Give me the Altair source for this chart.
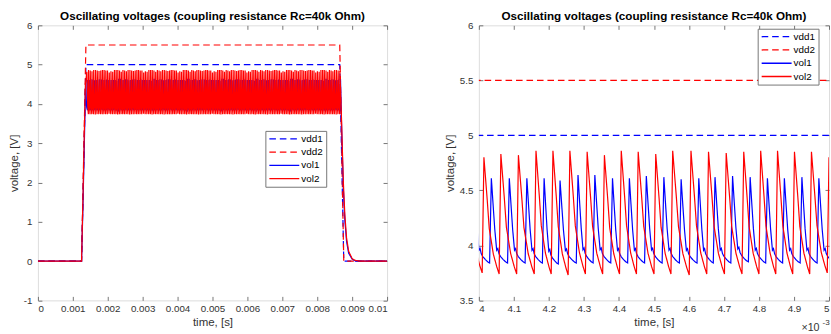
import altair as alt
import pandas as pd

FONT = "Liberation Sans"
TITLE = "Oscillating voltages (coupling resistance Rc=40k Ohm)"
SERIES = ["vdd1", "vdd2", "vol1", "vol2"]
COLORS = ["#0000ff", "#ff0000", "#0000ff", "#ff0000"]
DASHES = [[6.6, 3.9], [6.6, 3.9], [1, 0], [1, 0]]

# supply voltages (time in ms, volts)
VDD_T = [0.0, 1.25, 1.375, 8.645, 8.76, 10.0]
VDD1_V = [0.0, 0.0, 5.0, 5.0, 0.0, 0.0]
VDD2_V = [0.0, 0.0, 5.5, 5.5, 0.0, 0.0]

# one window (4..5 ms) of the oscillation
VOL2_PEAK_T = [4.0145, 4.0629, 4.1130, 4.1632, 4.2116, 4.2600, 4.3093, 4.3586, 4.4067, 4.4551,
               4.5052, 4.5536, 4.6058, 4.6559, 4.7064, 4.7565, 4.8049, 4.8530, 4.9014, 4.9499]
VOL2_PEAK_V = [4.80, 4.83, 4.82, 4.86, 4.86, 4.86, 4.85, 4.82, 4.86, 4.85,
               4.83, 4.86, 4.86, 4.85, 4.84, 4.85, 4.86, 4.86, 4.85, 4.85]
VOL2_LOW_V = [3.75, 3.74, 3.74, 3.74, 3.74, 3.73, 3.74, 3.74, 3.74, 3.74,
              3.74, 3.74, 3.73, 3.74, 3.74, 3.74, 3.74, 3.74, 3.74, 3.74]
VOL1_PEAK_T = [4.0357, 4.0870, 4.1371, 4.1864, 4.2319, 4.2832, 4.3313, 4.3817, 4.4299, 4.4783,
               4.5284, 4.5777, 4.6281, 4.6745, 4.7246, 4.7748, 4.8241, 4.8725, 4.9226, 4.9710]
VOL1_PEAK_V = [4.61, 4.61, 4.61, 4.61, 4.59, 4.64, 4.64, 4.61, 4.61, 4.63,
               4.62, 4.60, 4.61, 4.62, 4.63, 4.62, 4.61, 4.61, 4.62, 4.61]
VOL1_LOW_V = [3.84, 3.84, 3.84, 3.84, 3.83, 3.84, 3.84, 3.84, 3.84, 3.84,
              3.84, 3.84, 3.84, 3.84, 3.84, 3.85, 3.84, 3.84, 3.84, 3.84]
RISE_MS = 0.005          # trough -> peak rise time
WINDOW_MS = 0.9855       # span of the 20 read cycles (repeated across the band)
BAND_MS = [1.37, 8.67]   # oscillation interval

# shape of the decay from a peak to the next trough (fraction of time, fraction of swing)
VOL2_SHAPE_T = [0.0, 0.22, 0.35, 0.62, 0.85, 1.0]
VOL2_SHAPE_V = [1.0, 0.63, 0.39, 0.17, 0.06, 0.0]
VOL1_SHAPE_T = [0.0, 0.10, 0.21, 0.33, 0.40, 0.47, 0.57, 0.73, 0.90, 1.0]
VOL1_SHAPE_V = [1.0, 0.71, 0.40, 0.15, 0.17, 0.11, 0.075, 0.04, 0.01, 0.0]

# switch-on and switch-off edges
ON_T = [1.25, 1.29, 1.33, 1.36]
VOL2_ON_V = [0.0, 1.6, 3.3, 4.5]
VOL1_ON_V = [0.0, 1.4, 3.0, 4.3]
OFF_T = [8.69, 8.72, 8.75, 8.79, 8.84, 8.90, 9.00, 9.08, 9.20, 10.0]
VOL2_OFF_V = [3.78, 2.83, 1.97, 1.19, 0.59, 0.25, 0.06, 0.02, 0.0, 0.0]
VOL1_OFF_V = [3.70, 2.70, 1.80, 1.05, 0.50, 0.20, 0.05, 0.01, 0.0, 0.0]

X_TICKS_S = [0, 0.001, 0.002, 0.003, 0.004, 0.005, 0.006, 0.007, 0.008, 0.009, 0.01]
X_TICKS_MS = [4, 4.1, 4.2, 4.3, 4.4, 4.5, 4.6, 4.7, 4.8, 4.9, 5]
Y_TICKS_FULL = [-1, 0, 1, 2, 3, 4, 5, 6]
Y_TICKS_ZOOM = [3.5, 4, 4.5, 5, 5.5, 6]

PLOT_H = 275.7


def build(peak_t, peak_v, low_v, shape_t, shape_v, on_v, off_v):
    cyc = []
    for k in range(-4, 6):
        for tp, pv, lv in zip(peak_t, peak_v, low_v):
            t = tp + k * WINDOW_MS
            if BAND_MS[0] <= t <= BAND_MS[1]:
                cyc.append((t, pv, lv))
    cyc.sort()
    ts = [0.0] + ON_T
    vs = [0.0] + on_v
    for j, (tp, pv, lv) in enumerate(cyc):
        if j > 0:
            ts.append(tp - RISE_MS)
            vs.append(lv)
        ts.append(tp)
        vs.append(pv)
        if j + 1 < len(cyc):
            tn, _, ln = cyc[j + 1]
            tl = tn - RISE_MS
            for f, g in zip(shape_t[1:-1], shape_v[1:-1]):
                ts.append(tp + f * (tl - tp))
                vs.append(ln + g * (pv - ln))
    ts += OFF_T
    vs += off_v
    return ts, vs


rows = []
for name, vals in (("vdd1", VDD1_V), ("vdd2", VDD2_V)):
    for t, v in zip(VDD_T, vals):
        rows.append({"series": name, "t_ms": t, "v": v})
for name, args in (
    ("vol1", (VOL1_PEAK_T, VOL1_PEAK_V, VOL1_LOW_V, VOL1_SHAPE_T, VOL1_SHAPE_V, VOL1_ON_V, VOL1_OFF_V)),
    ("vol2", (VOL2_PEAK_T, VOL2_PEAK_V, VOL2_LOW_V, VOL2_SHAPE_T, VOL2_SHAPE_V, VOL2_ON_V, VOL2_OFF_V)),
):
    ts, vs = build(*args)
    for t, v in zip(ts, vs):
        rows.append({"series": name, "t_ms": t, "v": v})

df = pd.DataFrame(rows)
df["t_s"] = df["t_ms"] / 1000.0
df_zoom = df[df["series"].str.startswith("vdd") | df["t_ms"].between(3.9, 5.1)]


def axis(orient, values, title=None, labels=True, title_padding=4, label_padding=6, label_expr=None):
    kw = dict(orient=orient, values=values, labels=labels, offset=-4, tickSize=4, tickWidth=0.8,
              tickColor="#555555", domain=False, grid=False, labelFont=FONT, labelFontSize=9.8,
              labelColor="#333333", labelPadding=label_padding, labelOverlap=False, format="~g")
    if title:
        kw.update(title=title, titleFont=FONT, titleFontSize=11.5, titleFontWeight="normal",
                  titleColor="#333333", titlePadding=title_padding)
    else:
        kw["title"] = None
    if label_expr:
        kw["labelExpr"] = label_expr
    return alt.Axis(**kw)


def legend(x, y, label_expr=None):
    kw = dict(title=None, orient="none", legendX=x, legendY=y, symbolType="M-1,0L6.5,0",
              symbolSize=64, symbolStrokeWidth=1.3, labelOffset=23, labelFont=FONT,
              labelFontSize=9.9, labelColor="#000000", padding=3, rowPadding=3.3,
              strokeColor="#777777", fillColor="white", cornerRadius=0)
    if label_expr:
        kw["labelExpr"] = label_expr
    return alt.Legend(**kw)


def panel(data, xfield, xdom, xticks, ydom, yticks, width, leg, extra=(), ylabel_expr=None):
    xs = alt.Scale(domain=xdom, nice=False, zero=False)
    ys = alt.Scale(domain=ydom, nice=False, zero=False)
    lines = alt.Chart(data).mark_line(strokeWidth=1.2, clip=True).encode(
        x=alt.X(f"{xfield}:Q", scale=xs,
                axis=axis("bottom", xticks, "time, [s]", title_padding=3, label_padding=3)),
        y=alt.Y("v:Q", scale=ys, axis=axis("left", yticks, "voltage, [V]", label_expr=ylabel_expr)),
        color=alt.Color("series:N", scale=alt.Scale(domain=SERIES, range=COLORS), legend=leg),
        strokeDash=alt.StrokeDash("series:N", scale=alt.Scale(domain=SERIES, range=DASHES), legend=leg),
    )
    frame = alt.Chart(pd.DataFrame({xfield: xdom, "v": ydom})).mark_line(opacity=0).encode(
        x=alt.X(f"{xfield}:Q", scale=xs, axis=axis("top", xticks, labels=False)),
        y=alt.Y("v:Q", scale=ys, axis=axis("right", yticks, labels=False)),
    )
    return alt.layer(lines, frame, *extra).resolve_axis(x="independent", y="independent").properties(
        width=width, height=PLOT_H,
        title=alt.Title(TITLE, font=FONT, fontSize=11.7, fontWeight="bold", color="#000000",
                        anchor="middle", frame="group", offset=-2),
    )


note = pd.DataFrame({"k": [0]})
exp_base = alt.Chart(note).mark_text(text="×10", align="left", baseline="middle", font=FONT,
                                     fontSize=10.7, color="#333333").encode(
    x=alt.value(323.4), y=alt.value(303.2))
exp_sup = alt.Chart(note).mark_text(text="-3", align="left", baseline="middle", font=FONT,
                                    fontSize=8.1, color="#333333").encode(
    x=alt.value(344.5), y=alt.value(298.8))

left = panel(df, "t_s", [0, 0.01], X_TICKS_S, [-1, 6], Y_TICKS_FULL, 350, legend(228, 105.8),
             ylabel_expr="replace(datum.label, '\u2212', '-')")
right = panel(df_zoom, "t_ms", [4, 5], X_TICKS_MS, [3.5, 6], Y_TICKS_ZOOM, 351,
              legend(279.5, 3.4, "datum.label + '    '"), extra=(exp_base, exp_sup))

chart = alt.hconcat(left, right, spacing=55).resolve_scale(
    color="independent", strokeDash="independent"
).properties(
    padding={"left": 7, "top": 9, "right": 0, "bottom": -2}
).configure_view(stroke="#6e6e6e", strokeWidth=1).configure(background="white")

chart.save("out.html", embed_options={"renderer": "svg", "actions": False})
